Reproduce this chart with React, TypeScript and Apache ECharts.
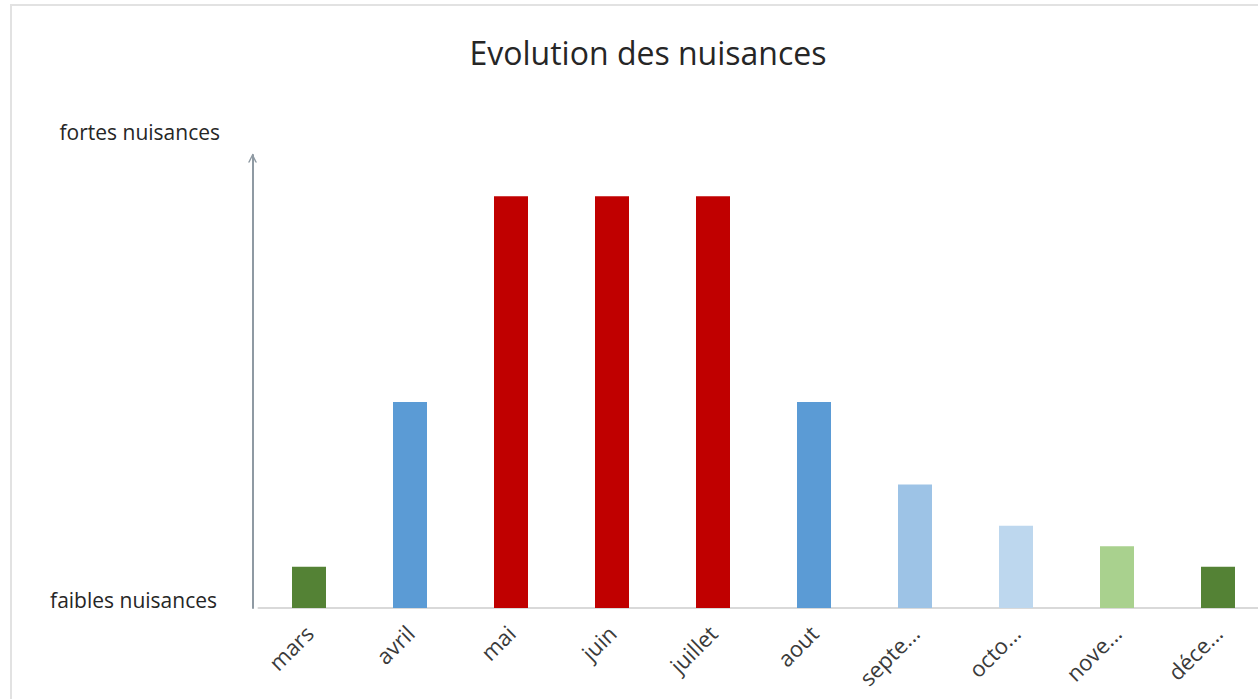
import React, { useEffect, useRef } from "react";
import * as echarts from "echarts";

const categories = ["mars", "avril", "mai", "juin", "juillet", "aout", "septe...", "octo...", "nove...", "déce..."];
const values = [1, 5, 10, 10, 10, 5, 3, 2, 1.5, 1];
const barColors = ["#548235", "#5b9bd5", "#c00000", "#c00000", "#c00000", "#5b9bd5", "#9dc3e6", "#bdd7ee", "#a9d18e", "#548235"];
const titleText = "Evolution des nuisances";
const topLabel = "fortes nuisances";
const bottomLabel = "faibles nuisances";

export default function App() {
  const ref = useRef<HTMLDivElement>(null);
  useEffect(() => {
    if (!ref.current) return;
    const chart = echarts.init(ref.current, undefined, { renderer: "svg" });
    const font = "'Open Sans', 'Liberation Sans', sans-serif";
    chart.setOption({
      animation: false,
      backgroundColor: "#ffffff",
      title: {
        text: titleText,
        left: 643,
        textAlign: "center",
        top: 31,
        textStyle: { fontFamily: font, fontSize: 32, fontWeight: "normal", color: "#262626" },
      },
      graphic: [
        {
          type: "rect",
          shape: { x: 11, y: 5, width: 1400, height: 800 },
          style: { fill: "none", stroke: "#e2e2e2", lineWidth: 2 },
          silent: true,
        },
        {
          type: "text",
          x: 220,
          y: 132,
          style: { text: topLabel, fontFamily: font, fontSize: 21, fill: "#262626", align: "right", verticalAlign: "middle" },
        },
        {
          type: "text",
          x: 217,
          y: 600,
          style: { text: bottomLabel, fontFamily: font, fontSize: 21, fill: "#262626", align: "right", verticalAlign: "middle" },
        },
      ],
      grid: { left: 258.5, top: 155, bottom: 91, width: 1010, containLabel: false },
      xAxis: {
        type: "category",
        data: categories,
        axisLine: { show: true, lineStyle: { color: "#d9d9d9", width: 2 } },
        axisTick: { show: false },
        axisLabel: {
          rotate: 45,
          margin: 21,
          interval: 0,
          fontFamily: font,
          fontSize: 22,
          color: "#3a3a3a",
        },
      },
      yAxis: {
        type: "value",
        min: 0,
        max: 11,
        offset: 6,
        axisLine: {
          show: true,
          lineStyle: { color: "#8f9aa3", width: 2 },
          symbol: ["none", "path://M0,10 L5,0 L10,10 L8.2,10 L5,3.2 L1.8,10 Z"],
          symbolSize: [9, 9],
          symbolOffset: [0, -3],
        },
        axisTick: { show: false },
        axisLabel: { show: false },
        splitLine: { show: false },
      },
      series: [
        {
          type: "bar",
          barWidth: 34,
          data: values.map((v, i) => ({ value: v, itemStyle: { color: barColors[i] } })),
        },
      ],
    });
    return () => chart.dispose();
  }, []);
  return (
    <div style={{ position: "absolute", left: 0, top: 0, width: 1258, height: 699, overflow: "hidden" }}>
      <div ref={ref} style={{ position: "absolute", left: 0, top: 0, width: 1300, height: 699 }} />
    </div>
  );
}
